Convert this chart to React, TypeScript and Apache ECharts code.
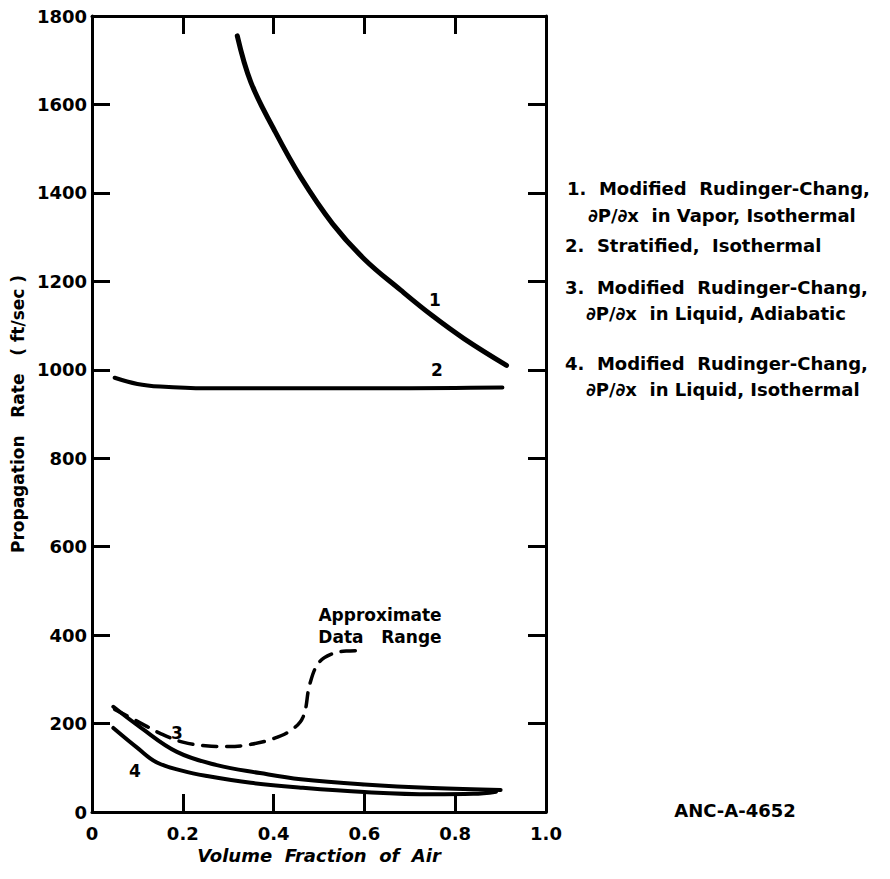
import React, { useEffect, useRef } from "react";
import * as echarts from "echarts";

// x: volume fraction of air, y: propagation rate (ft/sec)
const xTickValues = [0, 0.2, 0.4, 0.6, 0.8, 1.0];
const yTickValues = [0, 200, 400, 600, 800, 1000, 1200, 1400, 1600, 1800];

const curve1 = [
  [0.32, 1755], [0.35, 1650], [0.4, 1545], [0.46, 1435], [0.53, 1330],
  [0.6, 1250], [0.68, 1180], [0.75, 1122], [0.82, 1070], [0.913, 1010],
];
const curve2 = [
  [0.05, 982], [0.1, 968], [0.15, 962], [0.25, 958], [0.4, 958],
  [0.6, 958], [0.8, 959], [0.904, 960],
];
const curve3 = [
  [0.047, 238], [0.106, 192], [0.187, 136], [0.275, 106], [0.37, 88],
  [0.46, 74], [0.6, 62], [0.75, 54], [0.9, 50],
];
const curve4 = [
  [0.047, 190], [0.1, 145], [0.143, 112], [0.2, 93], [0.25, 82], [0.35, 66],
  [0.46, 55], [0.6, 45], [0.75, 40], [0.84, 41], [0.89, 46],
];
const dataRange = [
  [0.05, 232], [0.1, 205], [0.15, 178], [0.2, 158], [0.25, 150], [0.3, 148],
  [0.35, 153], [0.4, 166], [0.44, 186], [0.465, 215], [0.48, 290], [0.5, 338],
  [0.53, 358], [0.56, 364], [0.6, 365],
];

const legendLines = [
  { text: "1.  Modified  Rudinger-Chang,", x: 567, y: 188 },
  { text: "∂P/∂x  in Vapor, Isothermal", x: 588, y: 215 },
  { text: "2.  Stratified,  Isothermal", x: 565, y: 245 },
  { text: "3.  Modified  Rudinger-Chang,", x: 565, y: 287 },
  { text: "∂P/∂x  in Liquid, Adiabatic", x: 586, y: 313 },
  { text: "4.  Modified  Rudinger-Chang,", x: 565, y: 363 },
  { text: "∂P/∂x  in Liquid, Isothermal", x: 586, y: 389 },
];

const curveLabels = [
  { text: "1", x: 435, y: 300 },
  { text: "2", x: 437, y: 370 },
  { text: "3", x: 177, y: 733 },
  { text: "4", x: 135, y: 771 },
];

const FONT = "DejaVu Sans";

export default function App() {
  const ref = useRef<HTMLDivElement>(null);
  useEffect(() => {
    const chart = echarts.init(ref.current!, null, { renderer: "svg" });
    const axisCommon = {
      min: 0,
      axisLine: { show: true, onZero: false, lineStyle: { color: "#000", width: 3 } },
      axisTick: { show: true, inside: true, length: 18, lineStyle: { color: "#000", width: 3 } },
      splitLine: { show: false },
    };
    const lineSeries = (data: number[][], width: number, dashed = false) => ({
      type: "line",
      data,
      smooth: 0.4,
      symbol: "none",
      lineStyle: { color: "#000", width, type: dashed ? [14, 10] : "solid", cap: "round" },
      z: 3,
    });
    chart.setOption({
      animation: false,
      backgroundColor: "#fff",
      grid: { left: 92, right: 344, top: 16, bottom: 67 },
      xAxis: [
        {
          ...axisCommon,
          type: "value",
          max: 1,
          interval: 0.2,
          position: "bottom",
          axisLabel: {
            color: "#000",
            fontFamily: FONT,
            fontWeight: "bold",
            fontSize: 18,
            margin: 12,
            formatter: (v: number) => (v === 0 ? "0" : v.toFixed(1)),
          },
          name: "Volume  Fraction  of  Air",
          nameLocation: "middle",
          nameGap: 30,
          nameTextStyle: { color: "#000", fontFamily: FONT, fontWeight: "bold", fontStyle: "italic", fontSize: 18 },
        },
        {
          ...axisCommon,
          type: "value",
          max: 1,
          interval: 0.2,
          position: "top",
          axisLabel: { show: false },
        },
      ],
      yAxis: [
        {
          ...axisCommon,
          type: "value",
          max: 1800,
          interval: 200,
          position: "left",
          axisLabel: {
            color: "#000",
            fontFamily: FONT,
            fontWeight: "bold",
            fontSize: 18,
            margin: 5,
            formatter: (v: number) => String(v),
          },
          name: "Propagation   Rate   ( ft/sec )",
          nameLocation: "middle",
          nameGap: 62,
          nameRotate: 90,
          nameTextStyle: { color: "#000", fontFamily: FONT, fontWeight: "bold", fontSize: 17 },
        },
        {
          ...axisCommon,
          type: "value",
          max: 1800,
          interval: 200,
          position: "right",
          axisLabel: { show: false },
        },
      ],
      series: [
        lineSeries(curve1, 5),
        lineSeries(curve2, 4),
        lineSeries(curve3, 4),
        lineSeries(curve4, 4),
        lineSeries(dataRange, 3.5, true),
      ],
      graphic: [
        ...legendLines.map((l) => ({
          type: "text",
          x: l.x,
          y: l.y,
          style: {
            text: l.text,
            fill: "#000",
            font: `bold 18px "${FONT}"`,
            textVerticalAlign: "middle",
          },
        })),
        ...curveLabels.map((l) => ({
          type: "text",
          x: l.x,
          y: l.y,
          style: {
            text: l.text,
            fill: "#000",
            font: `bold 17px "${FONT}"`,
            textAlign: "center",
            textVerticalAlign: "middle",
          },
        })),
        {
          type: "text",
          x: 380,
          y: 615,
          style: { text: "Approximate", fill: "#000", font: `bold 17px "${FONT}"`, textAlign: "center", textVerticalAlign: "middle" },
        },
        {
          type: "text",
          x: 380,
          y: 637,
          style: { text: "Data   Range", fill: "#000", font: `bold 17px "${FONT}"`, textAlign: "center", textVerticalAlign: "middle" },
        },
        {
          type: "text",
          x: 735,
          y: 810,
          style: { text: "ANC-A-4652", fill: "#000", font: `bold 18px "${FONT}"`, textAlign: "center", textVerticalAlign: "middle" },
        },
      ],
    });
    return () => chart.dispose();
  }, []);
  return <div ref={ref} style={{ position: "absolute", left: 0, top: 0, width: 890, height: 879 }} />;
}
